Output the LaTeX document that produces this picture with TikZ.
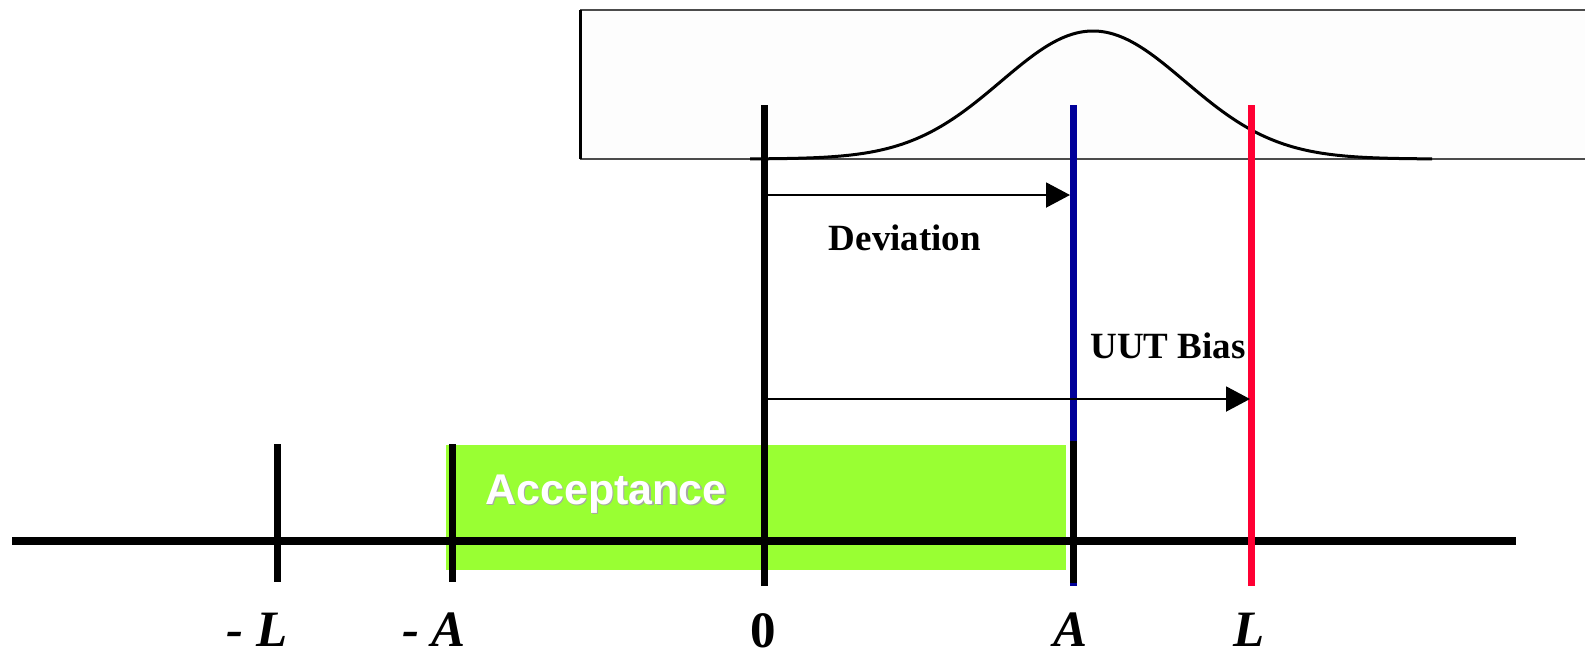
\documentclass[tikz,border=0pt]{standalone}
\usepackage{fontspec}
\setmainfont{Liberation Serif}
\newfontfamily\accfont{Liberation Sans}
\usetikzlibrary{arrows.meta}
\definecolor{accgreen}{HTML}{99FF33}
\definecolor{devblue}{HTML}{000099}
\definecolor{limred}{HTML}{FF0033}
\definecolor{boxfill}{HTML}{FDFDFD}
\tikzset{
  tickline/.style={line width=3.5pt},
  arr/.style={line width=1pt, -{Triangle[length=12pt,width=12.5pt]}},
  txt/.style={font=\fontsize{18.5}{20}\selectfont\bfseries, anchor=base, inner sep=0pt},
  lbl/.style={font=\fontsize{25.5}{28}\selectfont\bfseries\itshape, anchor=base, inner sep=0pt},
}

\begin{document}
\begin{tikzpicture}[x=0.5pt, y=-0.5pt]
  \useasboundingbox (0,0) rectangle (1585,655);
  \fill[boxfill] (580,10) rectangle (1585,159);
  \draw[black!70, line width=1pt] (1585,10) -- (580,10) (580,159) -- (1585,159);
  \draw[line width=1.5pt] (580,10) -- (580,159);
  \draw[line width=1.5pt] plot[domain=750:1432, samples=150, smooth]
    (\x, {159-128*exp(-0.5*pow((\x-1093)/92,2))});
  \coordinate (g1) at (446,445);
  \coordinate (g2) at (1066,570);
  \fill[accgreen] (g1) rectangle (g2);
  \coordinate (x1) at (12,541);
  \coordinate (x2) at (1516,541);
  \draw[line width=4pt] (x1) -- (x2);
  \coordinate (l1) at (277,444);
  \coordinate (l2) at (277,582);
  \coordinate (a1) at (452,444);
  \coordinate (a2) at (452,582);
  \coordinate (z1) at (764,105);
  \coordinate (z2) at (764,586);
  \coordinate (b1) at (1073,105);
  \coordinate (b2) at (1073,586);
  \coordinate (b3) at (1073,441);
  \coordinate (b4) at (1073,583);
  \coordinate (r1) at (1251,105);
  \coordinate (r2) at (1251,586);
  \draw[tickline] (l1) -- (l2);
  \draw[tickline] (a1) -- (a2);
  \draw[tickline] (z1) -- (z2);
  \draw[tickline, devblue] (b1) -- (b2);
  \draw[tickline] (b3) -- (b4);
  \draw[tickline, limred] (r1) -- (r2);
  \coordinate (d1) at (768,195);
  \coordinate (d2) at (1070,195);
  \coordinate (u1) at (768,399);
  \coordinate (u2) at (1250,399);
  \draw[arr] (d1) -- (d2);
  \draw[arr] (u1) -- (u2);
  \node[txt] (dev) at (905,250) {Deviation};
  \node[txt] (bias) at (1168,358) {UUT Bias};
  \node[anchor=base, inner sep=0pt, text=black!35, font=\fontsize{21.5}{24}\accfont\bfseries] (accs) at (607.5,505.5) {Acceptance};
  \node[anchor=base, inner sep=0pt, text=white, font=\fontsize{21.5}{24}\accfont\bfseries] (acc) at (606,504) {Acceptance};
  \node[lbl] (ml) at (257,646) {- L};
  \node[lbl] (ma) at (434,646) {- A};
  \node[lbl, font=\fontsize{25.5}{28}\selectfont\bfseries] (o) at (763,647) {0};
  \node[lbl] (pa) at (1070,646) {A};
  \node[lbl] (pl) at (1249,646) {L};
\end{tikzpicture}
\end{document}
